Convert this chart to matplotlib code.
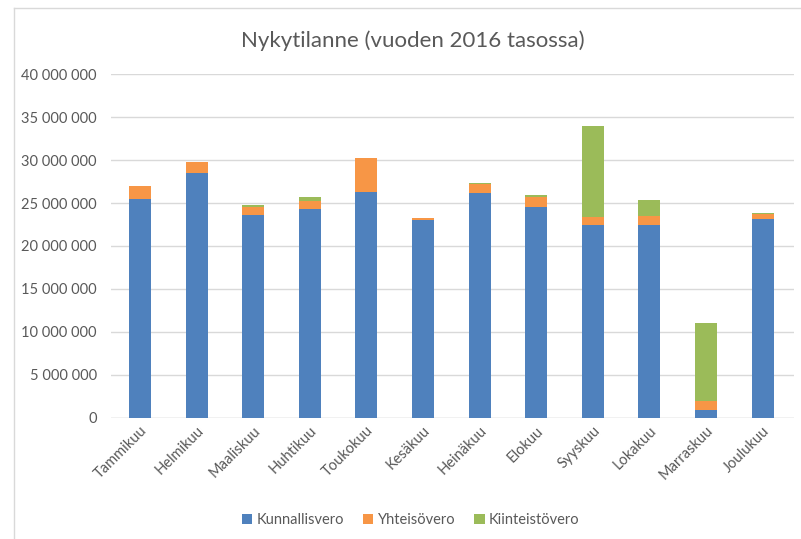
import numpy as np
import matplotlib.pyplot as plt
from matplotlib.ticker import FuncFormatter
from matplotlib.lines import Line2D

months = ['Tammikuu', 'Helmikuu', 'Maaliskuu', 'Huhtikuu', 'Toukokuu', 'Kesäkuu',
          'Heinäkuu', 'Elokuu', 'Syyskuu', 'Lokakuu', 'Marraskuu', 'Joulukuu']
kunnallisvero = [25.43, 28.45, 23.60, 24.30, 26.28, 23.02, 26.20, 24.50, 22.44, 22.44, 0.93, 23.14]
yhteisovero = [1.55, 1.28, 0.90, 0.97, 3.92, 0.20, 1.05, 1.24, 0.89, 1.09, 1.01, 0.62]
kiinteistovero = [0.03, 0.02, 0.27, 0.47, 0.07, 0.07, 0.02, 0.16, 10.62, 1.86, 9.07, 0.08]

plt.rcParams['font.family'] = ['Lato', 'DejaVu Sans']
text_col = '#595959'

fig = plt.figure(figsize=(8.01, 5.39), dpi=100)
ax = fig.add_axes([0.138, 0.2245, 0.853, 0.6382])

x = np.arange(len(months))
k = np.array(kunnallisvero) * 1e6
y = np.array(yhteisovero) * 1e6
g = np.array(kiinteistovero) * 1e6
w = 0.39
ax.bar(x, k, w, color='#4F81BD', label='Kunnallisvero', zorder=3)
ax.bar(x, y, w, bottom=k, color='#F79646', label='Yhteisövero', zorder=3)
ax.bar(x, g, w, bottom=k + y, color='#9BBB59', label='Kiinteistövero', zorder=3)

ax.set_xlim(-0.52, 11.55)
ax.set_ylim(0, 40e6)
ax.set_yticks(np.arange(0, 40e6 + 1, 5e6))
ax.yaxis.set_major_formatter(FuncFormatter(lambda v, p: f'{int(v):,}'.replace(',', ' ')))
ax.grid(axis='y', color='#D9D9D9', linewidth=1, zorder=0)
for s in ax.spines.values():
    s.set_visible(False)
ax.axhline(0, color='#D9D9D9', linewidth=1, zorder=1)
ax.tick_params(axis='both', length=0, labelsize=10.5, labelcolor=text_col)
ax.tick_params(axis='y', pad=10)
ax.tick_params(axis='x', pad=4)
ax.set_xticks(x)
ax.set_xticklabels(months, rotation=45, ha='right', rotation_mode='anchor')

fig.text(0.515, 0.925, 'Nykytilanne (vuoden 2016 tasossa)', ha='center', va='center',
         fontsize=16, color=text_col)
fig.legend(loc='center', bbox_to_anchor=(0.513, 0.035), ncol=3, frameon=False,
           fontsize=10.5, labelcolor=text_col, handlelength=0.7, handleheight=0.7,
           handletextpad=0.3, columnspacing=1.3)

# chart frame (only left and top edges visible in the picture)
fig.add_artist(Line2D([0.0175, 0.0175], [0.0, 0.985], transform=fig.transFigure,
                      color='#D9D9D9', linewidth=1))
fig.add_artist(Line2D([0.0175, 1.0], [0.985, 0.985], transform=fig.transFigure,
                      color='#D9D9D9', linewidth=1))

fig.savefig('out.png', dpi=100)
